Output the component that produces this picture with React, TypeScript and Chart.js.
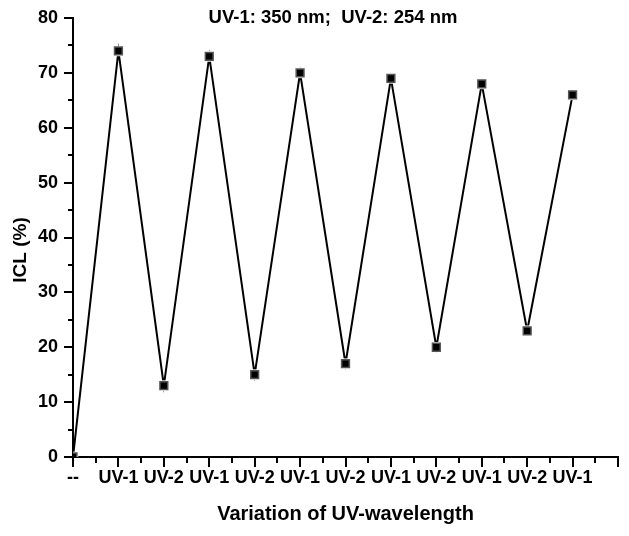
import { useEffect, useRef } from 'react';
import { Chart, registerables } from 'chart.js';

Chart.register(...registerables);

const categories = ['--', 'UV-1', 'UV-2', 'UV-1', 'UV-2', 'UV-1', 'UV-2', 'UV-1', 'UV-2', 'UV-1', 'UV-2', 'UV-1'];
const iclValues = [0, 74, 13, 73, 15, 70, 17, 69, 20, 68, 23, 66];
const yMin = 0;
const yMax = 80;
const yStep = 10;
const xMax = 12;
const chartTitle = 'UV-1: 350 nm;  UV-2: 254 nm';
const xTitle = 'Variation of UV-wavelength';
const yTitle = 'ICL (%)';

const FONT = "'Liberation Sans', Arial, Helvetica, sans-serif";

const decorPlugin = {
  id: 'decor',
  afterDraw(chart: any) {
    const { ctx, scales } = chart;
    const xs = scales.x;
    const ys = scales.y;
    ctx.save();
    ctx.strokeStyle = '#000';
    ctx.lineWidth = 2;
    ctx.lineCap = 'butt';
    const axisX = xs.left;
    const axisY = ys.bottom;
    for (let v = yMin; v <= yMax; v += yStep / 2) {
      const major = v % yStep === 0;
      const len = major ? 9 : 5;
      const py = Math.round(ys.getPixelForValue(v));
      ctx.beginPath();
      ctx.moveTo(axisX - len, py);
      ctx.lineTo(axisX, py);
      ctx.stroke();
    }
    for (let i = 0; i <= xMax * 2; i++) {
      const v = i / 2;
      const major = i % 2 === 0;
      const len = major ? 10 : 6;
      const px = Math.round(xs.getPixelForValue(v));
      ctx.beginPath();
      ctx.moveTo(px, axisY);
      ctx.lineTo(px, axisY + len);
      ctx.stroke();
    }
    ctx.fillStyle = '#000';
    ctx.textAlign = 'center';
    ctx.textBaseline = 'middle';
    ctx.font = `bold 18.5px ${FONT}`;
    ctx.fillText(chartTitle, 333, 18);
    ctx.translate(21, 250);
    ctx.rotate(-Math.PI / 2);
    ctx.font = `bold 19px ${FONT}`;
    ctx.fillText(yTitle, 0, 0);
    ctx.restore();
  },
};

export default function App() {
  const canvasRef = useRef<HTMLCanvasElement | null>(null);

  useEffect(() => {
    const canvas = canvasRef.current;
    if (!canvas) return;
    const points = iclValues.map((v, i) => ({ x: i, y: v }));
    const chart = new Chart(canvas, {
      type: 'line',
      data: {
        datasets: [
          {
            data: points,
            showLine: false,
            pointStyle: 'rect',
            pointRadius: 5.5,
            pointBackgroundColor: '#000',
            pointBorderColor: '#555',
            pointBorderWidth: 1.5,
          },
          {
            data: points,
            borderColor: '#000',
            borderWidth: 2,
            tension: 0,
            pointStyle: 'rect',
            pointRadius: 7.5,
            pointBackgroundColor: '#fff',
            pointBorderColor: '#fff',
            pointBorderWidth: 0,
            fill: false,
          },
        ],
      },
      options: {
        responsive: false,
        animation: false,
        layout: { padding: { top: 18, right: 11, bottom: 0, left: 0 } },
        plugins: {
          legend: { display: false },
          title: { display: false },
          tooltip: { enabled: false },
        },
        scales: {
          x: {
            type: 'linear',
            min: 0,
            max: xMax,
            afterFit: (scale: any) => {
              scale.height = 79;
            },
            ticks: {
              stepSize: 1,
              autoSkip: false,
              maxRotation: 0,
              padding: 10,
              color: '#000',
              font: { family: FONT, size: 18, weight: 'bold' },
              callback: (value: any) => {
                const idx = Number(value);
                return Number.isInteger(idx) && idx < categories.length ? categories[idx] : '';
              },
            },
            grid: { display: true, drawOnChartArea: false, drawTicks: false },
            border: { display: true, color: '#000', width: 2 },
            title: {
              display: true,
              text: xTitle,
              color: '#000',
              font: { family: FONT, size: 20, weight: 'bold' },
              padding: { top: 0, bottom: 10 },
            },
          },
          y: {
            type: 'linear',
            min: yMin,
            max: yMax,
            afterFit: (scale: any) => {
              scale.width = 73;
              scale.paddingTop = 0;
              scale.paddingBottom = 0;
            },
            ticks: {
              stepSize: yStep,
              padding: 15,
              color: '#000',
              font: { family: FONT, size: 18, weight: 'bold' },
            },
            grid: { display: true, drawOnChartArea: false, drawTicks: false },
            border: { display: true, color: '#000', width: 2 },
          },
        },
      },
      plugins: [decorPlugin],
    });
    return () => chart.destroy();
  }, []);

  return (
    <div style={{ position: 'absolute', left: 0, top: 0, width: 629, height: 536, background: '#fff' }}>
      <canvas ref={canvasRef} width={629} height={536} style={{ display: 'block', width: 629, height: 536 }} />
    </div>
  );
}
